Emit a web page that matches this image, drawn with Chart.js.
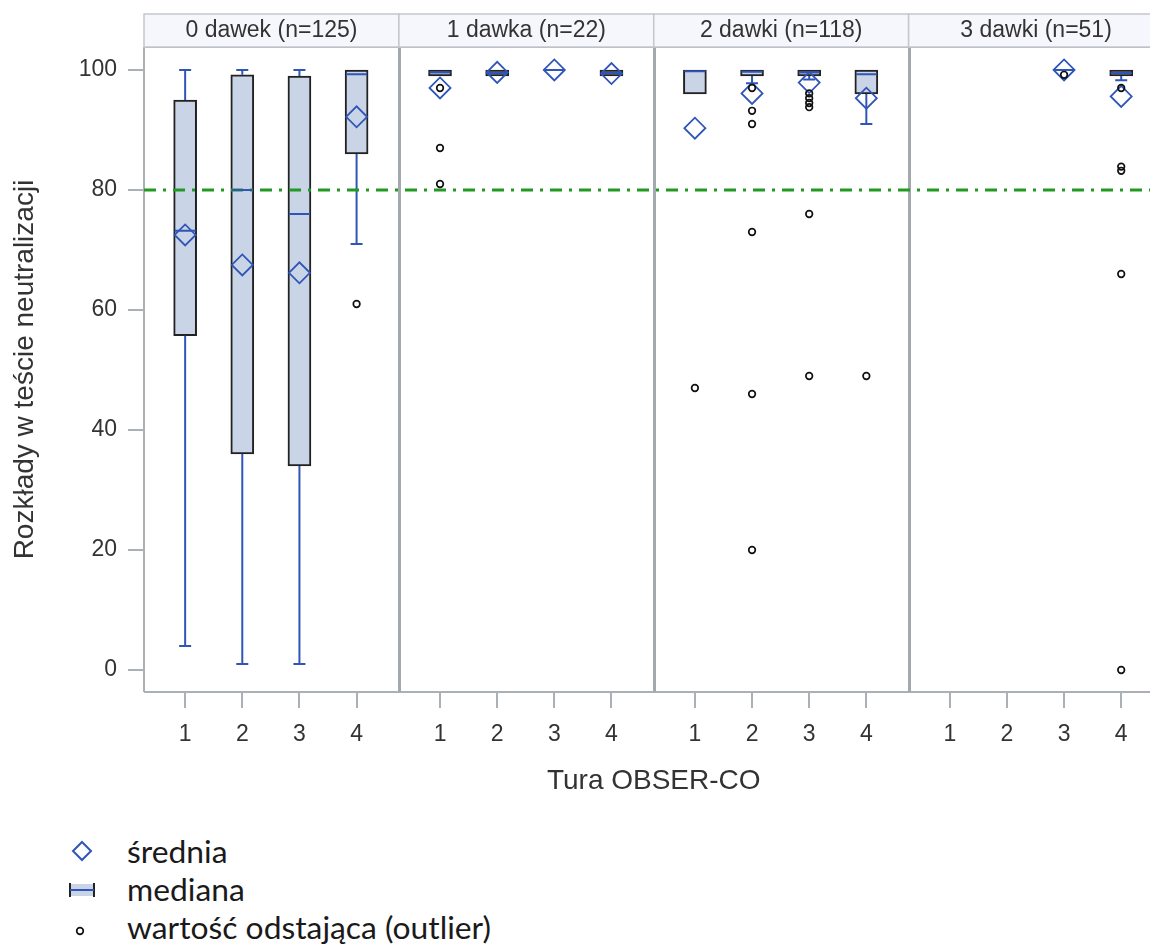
<!DOCTYPE html>
<html lang="pl">
<head>
<meta charset="utf-8">
<title>Rozkłady w teście neutralizacji</title>
<script src="https://cdn.jsdelivr.net/npm/chart.js@4.4.1/dist/chart.umd.min.js"></script>
<style>
  body { margin: 0; background: #fff; width: 1150px; height: 947px; position: relative; overflow: hidden; }
  #chart { position: absolute; left: 0; top: 0; }
  .legend { position: absolute; left: 57px; top: 832px; font-family: Lato, 'Open Sans', sans-serif; font-size: 31.8px; color: #1a1a1a; }
  .legend-row { display: flex; align-items: center; height: 38px; }
  .legend-row svg { width: 50px; height: 30px; margin-right: 20px; flex: none; }
</style>
</head>
<body>
<canvas id="chart" width="1176" height="810"></canvas>

<div class="legend">
  <div class="legend-row">
    <svg viewBox="0 0 50 30"><path d="M25 6 L34 15 L25 24 L16 15 Z" fill="none" stroke="#2f55b8" stroke-width="2"/></svg>
    <span>średnia</span>
  </div>
  <div class="legend-row">
    <svg viewBox="0 0 50 30"><rect x="13" y="10" width="24" height="12" fill="#c9d4e6"/><line x1="13" y1="9" x2="13" y2="23" stroke="#222" stroke-width="2"/><line x1="37" y1="9" x2="37" y2="23" stroke="#222" stroke-width="2"/><line x1="13" y1="16" x2="37" y2="16" stroke="#2f55b8" stroke-width="2"/></svg>
    <span>mediana</span>
  </div>
  <div class="legend-row">
    <svg viewBox="0 0 50 30"><circle cx="23" cy="19" r="3.3" fill="none" stroke="#111" stroke-width="1.7"/></svg>
    <span>wartość odstająca (outlier)</span>
  </div>
</div>

<script>
// ── Dane ───────────────────────────────────────────────────────────────────
const panels = ['0 dawek (n=125)', '1 dawka (n=22)', '2 dawki (n=118)', '3 dawki (n=51)'];
const tury   = ['1', '2', '3', '4'];
const yTicks = [0, 20, 40, 60, 80, 100];
const threshold = 80;

// [panel][tura], null = brak danych
const whiskerLow  = [[4, 1, 1, 71],          [99, 99, 100, 99],       [96, 97.8, 98.4, 91],    [null, null, 100, 98.3]];
const q1          = [[55.7, 36, 34, 86],     [99, 99, 100, 99],       [96, 99, 99, 96],        [null, null, 100, 99]];
const median      = [[73.2, 80, 76, 99.3],   [99.6, 99.5, 100, 99.5], [99.8, 99.7, 99.6, 99.3], [null, null, 100, 99.5]];
const q3          = [[95, 99.2, 99, 100],    [100, 100, 100, 100],    [100, 100, 100, 100],    [null, null, 100, 100]];
const whiskerHigh = [[100, 100, 100, 100],   [100, 100, 100, 100],    [100, 100, 100, 100],    [null, null, 100, 100]];
const mean        = [[72.5, 67.5, 66.2, 92.2], [97, 99.6, 100, 99.4], [90.3, 96.1, 97.9, 95.3], [null, null, 100, 95.6]];
const outliers = [
  [[], [], [], [61]],
  [[97, 87, 81], [], [], []],
  [[47], [97, 93.2, 91, 73, 46, 20], [96.1, 95.3, 94.5, 93.8, 76, 49], [49]],
  [[], [], [99.2], [97, 83.9, 83.2, 66, 0]],
];

// ── Układ osi ──────────────────────────────────────────────────────────────
// ostatni panel wychodzi poza prawy brzeg obrazka (jak w oryginale)
const PANEL_W = 4.46;
const X_MIN = 0.28, X_MAX = X_MIN + 4 * PANEL_W;
const Y_MIN = -3.67, Y_MAX = 103.83;
const AREA_RIGHT = 1163;

const BLUE  = '#2f55b8';
const GRAY  = '#aab0b6';
const FONT  = "'Liberation Sans', Arial, sans-serif";

const xOf = (p, t) => p * PANEL_W + (t + 1);

const boxes = [], medPts = [], meanPts = [], capPts = [], whiskerPts = [], outPts = [];
panels.forEach((_, p) => {
  tury.forEach((_, t) => {
    const x = xOf(p, t);
    if (q1[p][t] !== null) {
      boxes.push({ x, y: [q1[p][t], q3[p][t]] });
      medPts.push({ x, y: median[p][t] });
      meanPts.push({ x, y: mean[p][t] });
      if (whiskerLow[p][t] < q1[p][t]) {
        whiskerPts.push({ x, y: whiskerLow[p][t] }, { x, y: q1[p][t] }, { x, y: null });
        capPts.push({ x, y: whiskerLow[p][t] });
      }
      if (whiskerHigh[p][t] > q3[p][t]) {
        whiskerPts.push({ x, y: q3[p][t] }, { x, y: whiskerHigh[p][t] }, { x, y: null });
        capPts.push({ x, y: whiskerHigh[p][t] });
      }
    }
    outliers[p][t].forEach(v => outPts.push({ x, y: v }));
  });
});

const tickValues = [];
panels.forEach((_, p) => tury.forEach((_, t) => tickValues.push(xOf(p, t))));

// ── Ramki paneli i nagłówki ────────────────────────────────────────────────
const panelFrame = {
  id: 'panelFrame',
  beforeDatasetsDraw(chart) {
    const { ctx, chartArea: a, scales: { x } } = chart;
    ctx.save();
    ctx.strokeStyle = GRAY;
    ctx.lineWidth = 2;
    ctx.beginPath();
    ctx.moveTo(a.left, a.top); ctx.lineTo(a.right, a.top);
    ctx.moveTo(a.left, a.top); ctx.lineTo(a.left, a.bottom);
    ctx.moveTo(a.left, a.bottom); ctx.lineTo(a.right, a.bottom);
    ctx.stroke();
    ctx.lineWidth = 3;
    ctx.strokeStyle = '#a3a9af';
    for (let p = 1; p < panels.length; p++) {
      const px = Math.round(x.getPixelForValue(X_MIN + p * PANEL_W)) + 0.5;
      ctx.beginPath(); ctx.moveTo(px, a.top); ctx.lineTo(px, a.bottom); ctx.stroke();
    }
    ctx.restore();
  },
  afterDraw(chart) {
    const { ctx, chartArea: a, scales: { x } } = chart;
    ctx.save();
    panels.forEach((label, p) => {
      const l = x.getPixelForValue(X_MIN + p * PANEL_W);
      const r = x.getPixelForValue(X_MIN + (p + 1) * PANEL_W);
      ctx.fillStyle = '#f5f7fd';
      ctx.fillRect(l, 14, r - l, a.top - 14);
      ctx.strokeStyle = '#c3c7cc';
      ctx.lineWidth = 1.5;
      ctx.strokeRect(l, 14, r - l, a.top - 14);
      ctx.fillStyle = '#333';
      ctx.font = `23px ${FONT}`;
      ctx.textAlign = 'center';
      ctx.textBaseline = 'middle';
      ctx.fillText(label, (l + r) / 2, 31);
    });
    ctx.restore();
  }
};

const chart = new Chart(document.getElementById('chart'), {
  type: 'scatter',
  data: {
    datasets: [
      { type: 'scatter', data: outPts, pointStyle: 'circle', pointRadius: 3.3, borderColor: '#111', backgroundColor: 'rgba(0,0,0,0)', borderWidth: 1.7 },
      { type: 'scatter', data: meanPts, pointStyle: 'rectRot', pointRadius: 10.5, borderColor: BLUE, backgroundColor: 'rgba(0,0,0,0)', borderWidth: 1.8 },
      { type: 'scatter', data: medPts, pointStyle: 'line', pointRadius: 10.5, borderColor: BLUE, borderWidth: 2 },
      { type: 'line', data: [{ x: X_MIN, y: threshold }, { x: X_MAX, y: threshold }], borderColor: '#229922', borderWidth: 3, borderDash: [12, 7, 3, 7], pointRadius: 0 },
      { type: 'scatter', data: capPts, pointStyle: 'line', pointRadius: 6, borderColor: BLUE, borderWidth: 2 },
      { type: 'line', data: whiskerPts, borderColor: BLUE, borderWidth: 2, pointRadius: 0, spanGaps: false },
      { type: 'bar', data: boxes, backgroundColor: '#c9d4e6', borderColor: '#222', borderWidth: 2, borderSkipped: false, barThickness: 23 },
    ]
  },
  options: {
    responsive: false,
    maintainAspectRatio: false,
    animation: false,
    devicePixelRatio: 1,
    layout: { padding: { top: 47, left: 0, right: 0, bottom: 0 } },
    plugins: { legend: { display: false }, tooltip: { enabled: false } },
    scales: {
      x: {
        type: 'linear', min: X_MIN, max: X_MAX, offset: false,
        afterFit: s => { s.height = 118; },
        afterBuildTicks: s => { s.ticks = tickValues.map(v => ({ value: v })); },
        ticks: { color: '#333', font: { family: FONT, size: 23 }, padding: 13, maxRotation: 0, autoSkip: false,
                 callback: (v, i) => tury[i % tury.length] },
        grid: { offset: false, drawOnChartArea: false, color: GRAY, lineWidth: 2, tickLength: 16 },
        border: { display: false },
        title: { display: true, text: 'Tura OBSER-CO', color: '#333', font: { family: FONT, size: 28 }, padding: { top: 12, bottom: 12 } }
      },
      y: {
        type: 'linear', min: Y_MIN, max: Y_MAX, beginAtZero: false,
        afterFit: s => { s.width = 144; },
        afterBuildTicks: s => { s.ticks = yTicks.map(v => ({ value: v })); },
        ticks: { color: '#333', font: { family: FONT, size: 23 }, padding: 11 },
        grid: { drawOnChartArea: false, color: GRAY, lineWidth: 2, tickLength: 16 },
        border: { display: false },
        title: { display: true, text: 'Rozkłady w teście neutralizacji', color: '#333', font: { family: FONT, size: 28 }, padding: { top: 8, bottom: 8 } }
      }
    }
  },
  plugins: [panelFrame]
});

// dopasuj szerokość płótna tak, by obszar wykresu kończył się na AREA_RIGHT
const extra = AREA_RIGHT - chart.chartArea.right;
if (Math.abs(extra) > 0.5) chart.resize(chart.width + extra, 810);
</script>
</body>
</html>
